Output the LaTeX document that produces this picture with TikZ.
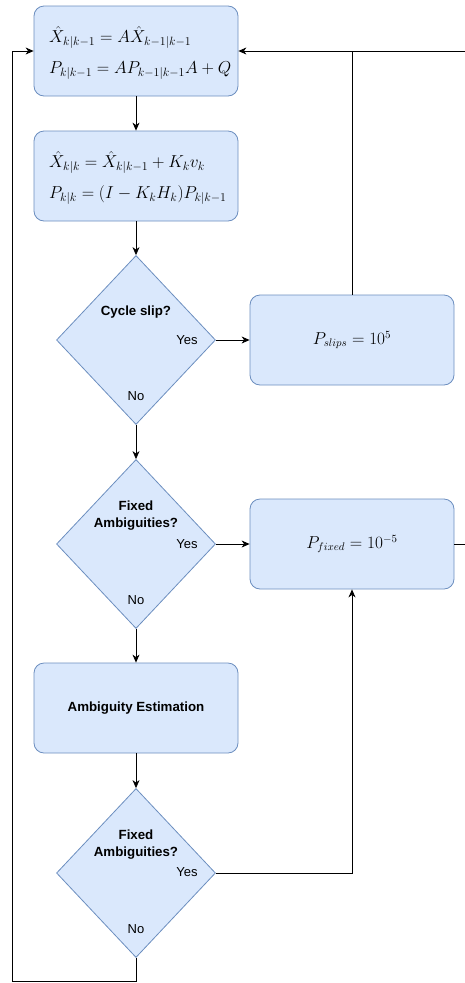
\documentclass[tikz,border=0pt]{standalone}
\usepackage{fontspec}
\setmainfont{Liberation Sans}
\usetikzlibrary{shapes.geometric,arrows.meta}
\definecolor{boxfill}{HTML}{DAE8FC}
\definecolor{boxline}{HTML}{6C8EBF}
\tikzset{
  procbox/.style={draw=boxline, fill=boxfill, line width=0.8pt, rounded corners=10pt,
    minimum width=204pt, minimum height=90pt, inner sep=0pt},
  decision/.style={draw=boxline, fill=boxfill, line width=0.8pt, diamond,
    minimum width=159pt, minimum height=169pt, inner sep=0pt},
  lbl/.style={font=\fontsize{13}{15}\selectfont, inner sep=0pt},
  blbl/.style={font=\fontsize{13.3}{17}\selectfont\bfseries, inner sep=0pt, align=center},
  eq/.style={font=\fontsize{17.5}{21}\selectfont, inner sep=0pt, anchor=west, align=left},
  conn/.style={line width=0.8pt, -{Stealth[length=8pt,width=7pt,inset=2.5pt]}},
  plain/.style={line width=0.8pt}
}
\begin{document}
\begin{tikzpicture}[x=1pt,y=-1pt]
\useasboundingbox (0,0) rectangle (465,983);
% nodes
\node[procbox] (b1) at (136,51) {};
\node[eq] (b1t) at (49,53) {$\hat{X}_{k|k-1} = A\hat{X}_{k-1|k-1}$\\[10pt]$P_{k|k-1} = AP_{k-1|k-1}A + Q$};
\node[procbox] (b2) at (136,176) {};
\node[eq] (b2t) at (49,178) {$\hat{X}_{k|k} = \hat{X}_{k|k-1} + K_k v_k$\\[10pt]$P_{k|k} = (I - K_k H_k)P_{k|k-1}$};
\node[decision] (d1) at (136,340) {};
\node[blbl] (d1t) at (136,312) {Cycle slip?};
\node[lbl] (d1y) at (187,340) {Yes};
\node[lbl] (d1n) at (136,396) {No};
\node[procbox] (slips) at (352,340) {\fontsize{16}{19}\selectfont $P_{slips} = 10^5$};
\node[decision] (d2) at (136,544) {};
\node[blbl] (d2t) at (136,515.5) {Fixed\\Ambiguities?};
\node[lbl] (d2y) at (187,544) {Yes};
\node[lbl] (d2n) at (136,600) {No};
\node[procbox] (fixed) at (352,544) {\fontsize{16}{19}\selectfont $P_{fixed} = 10^{-5}$};
\node[procbox] (ae) at (136,708) {\fontsize{13.3}{16}\selectfont\bfseries Ambiguity Estimation};
\node[decision] (d3) at (136,873) {};
\node[blbl] (d3t) at (136,844.5) {Fixed\\Ambiguities?};
\node[lbl] (d3y) at (187,872) {Yes};
\node[lbl] (d3n) at (136,929) {No};
\coordinate (rin) at (465,51);
\coordinate (rout) at (465,544);
% connectors
\draw[conn] (b1.south) -- (b2.north);
\draw[conn] (b2.south) -- (d1.north);
\draw[conn] (d1.east) -- (slips.west);
\draw[conn] (d1.south) -- (d2.north);
\draw[conn] (d2.east) -- (fixed.west);
\draw[conn] (d2.south) -- (ae.north);
\draw[conn] (ae.south) -- (d3.north);
\draw[conn] (d3.south) -- (136,981) -- (12,981) -- (12,51) -- (b1.west);
\draw[conn] (rin) -- (b1.east);
\draw[plain] (slips.north) -- (352,51);
\draw[plain] (fixed.east) -- (rout);
\draw[conn] (d3.east) -- (352,873) -- (fixed.south);
\end{tikzpicture}
\end{document}
